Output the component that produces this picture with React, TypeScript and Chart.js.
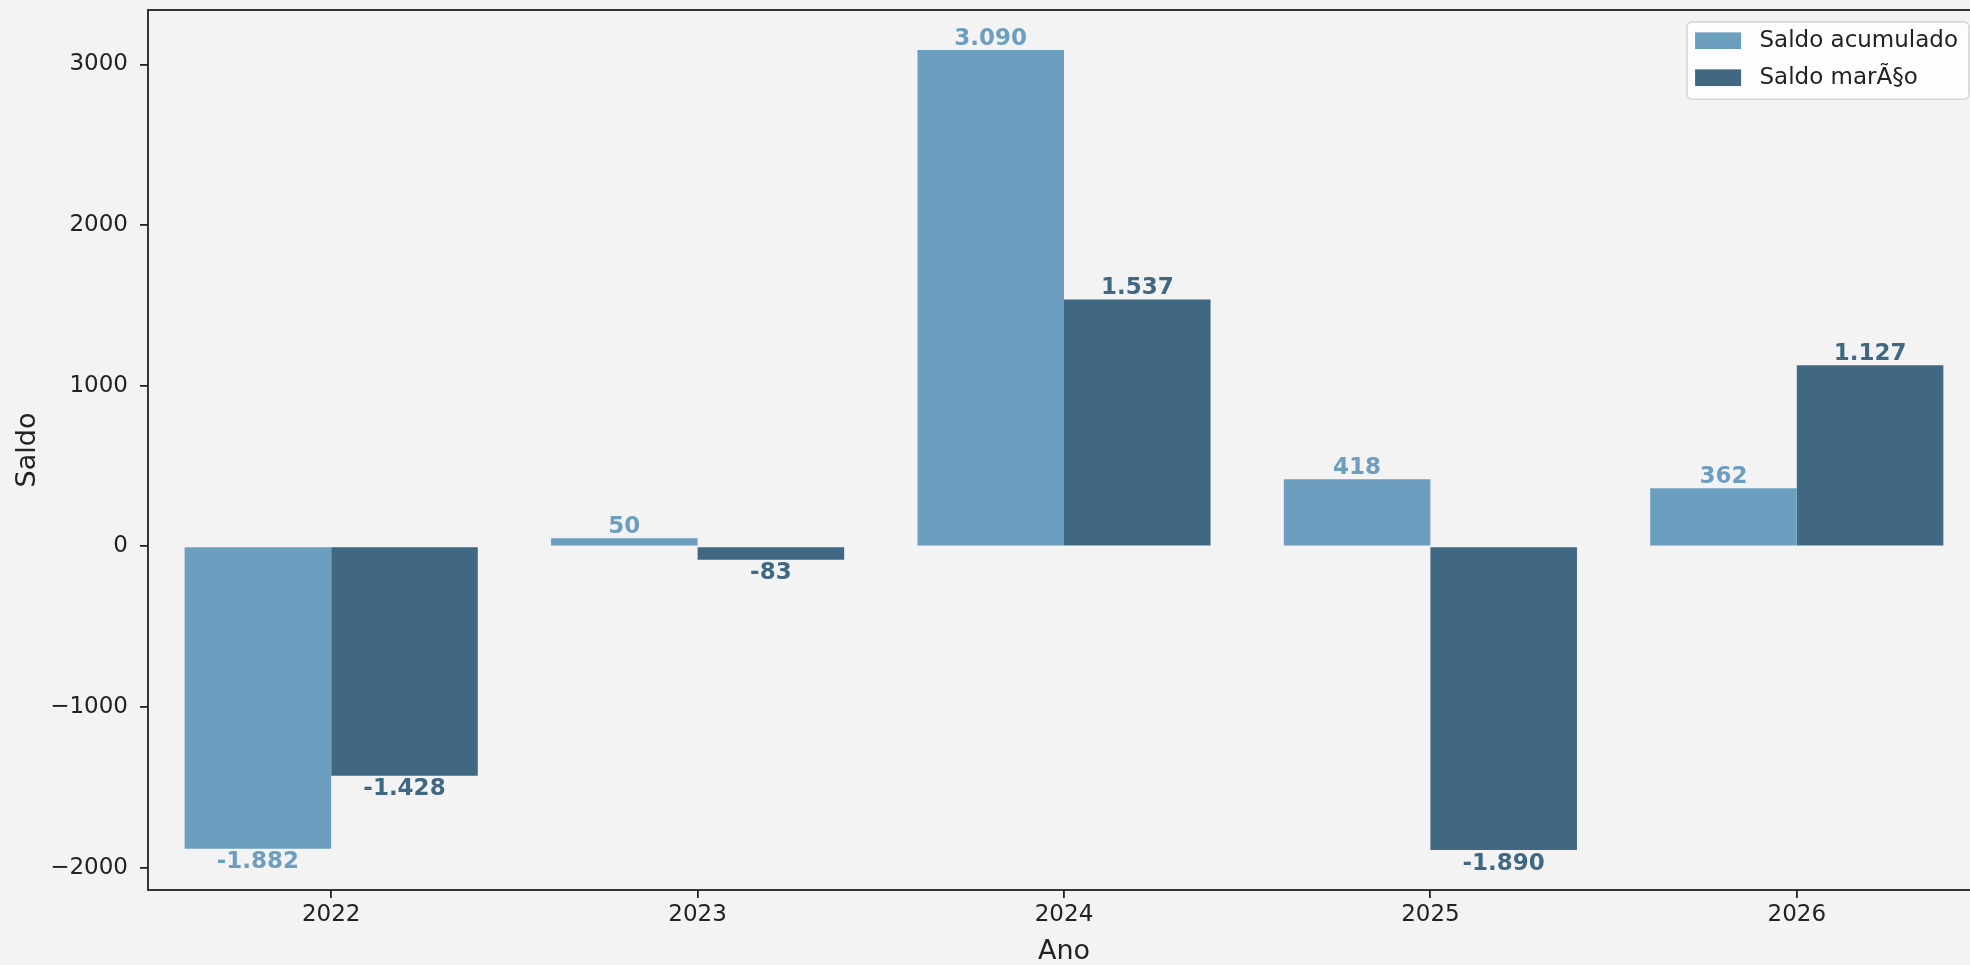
import React, { useEffect, useRef } from 'react';
import { Chart, registerables } from 'chart.js';

Chart.register(...registerables);

const categories = ['2022', '2023', '2024', '2025', '2026'];
const saldoAcumulado = [-1882, 50, 3090, 418, 362];
const saldoMarco = [-1428, -83, 1537, -1890, 1127];
const seriesLabels = ['Saldo acumulado', 'Saldo marÃ§o'];
const seriesColors = ['#6c9ec0', '#406882'];
const yTickValues = [-2000, -1000, 0, 1000, 2000, 3000];
const yMin = -2139;
const yMax = 3339;
const xTitle = 'Ano';
const yTitle = 'Saldo';

const FONT = "'DejaVu Sans', 'Liberation Sans', sans-serif";
const BG = '#f3f3f3';
const INK = '#222222';

function fmtLabel(v: number): string {
  const s = Math.abs(v).toString().replace(/\B(?=(\d{3})+(?!\d))/g, '.');
  return (v < 0 ? '-' : '') + s;
}

function fmtTick(v: number): string {
  return v < 0 ? '\u2212' + Math.abs(v) : String(v);
}

const bgPlugin = {
  id: 'bgFill',
  beforeDraw(chart: any) {
    const { ctx, width, height } = chart;
    ctx.save();
    ctx.fillStyle = BG;
    ctx.fillRect(0, 0, width, height);
    ctx.restore();
  },
};

const spinesPlugin = {
  id: 'spines',
  afterDraw(chart: any) {
    const { ctx, chartArea } = chart;
    ctx.save();
    ctx.strokeStyle = INK;
    ctx.lineWidth = 1.8;
    ctx.strokeRect(chartArea.left, chartArea.top, chartArea.right - chartArea.left, chartArea.bottom - chartArea.top);
    ctx.restore();
  },
};

const valueLabelsPlugin = {
  id: 'valueLabels',
  afterDatasetsDraw(chart: any) {
    const { ctx } = chart;
    ctx.save();
    ctx.font = `bold 23px ${FONT}`;
    ctx.textAlign = 'center';
    ctx.textBaseline = 'alphabetic';
    chart.data.datasets.forEach((ds: any, di: number) => {
      const meta = chart.getDatasetMeta(di);
      meta.data.forEach((el: any, i: number) => {
        const v = ds.data[i] as number;
        ctx.fillStyle = ds.backgroundColor;
        const y = v >= 0 ? el.y - 5.5 : el.y + 19.5;
        ctx.fillText(fmtLabel(v), el.x, y);
      });
    });
    ctx.restore();
  },
};

const legendPlugin = {
  id: 'boxLegend',
  afterDraw(chart: any) {
    const { ctx, chartArea } = chart;
    const fs = 23;
    ctx.save();
    ctx.font = `${fs}px ${FONT}`;
    const labels = chart.data.datasets.map((d: any) => d.label as string);
    const textW = Math.max(...labels.map((l: string) => ctx.measureText(l).width));
    const padL = 8;
    const padR = 11;
    const handleW = 46;
    const handleH = 16.7;
    const gap = 18.4;
    const rowH = 37;
    const boxW = padL + handleW + gap + textW + padR;
    const boxH = 77.6;
    const right = chartArea.right - 11;
    const left = right - boxW;
    const top = chartArea.top + 11.7;
    ctx.beginPath();
    (ctx as any).roundRect(left, top, boxW, boxH, 5);
    ctx.fillStyle = '#fdfdfd';
    ctx.fill();
    ctx.strokeStyle = '#d4d4d4';
    ctx.lineWidth = 1.5;
    ctx.stroke();
    chart.data.datasets.forEach((d: any, i: number) => {
      const cy = top + 19 + i * rowH;
      ctx.fillStyle = d.backgroundColor;
      ctx.fillRect(left + padL, cy - handleH / 2, handleW, handleH);
      ctx.fillStyle = INK;
      ctx.textAlign = 'left';
      ctx.textBaseline = 'middle';
      ctx.fillText(d.label, left + padL + handleW + gap, cy + 0.6);
    });
    ctx.restore();
  },
};

export default function App() {
  const canvasRef = useRef<HTMLCanvasElement | null>(null);

  useEffect(() => {
    document.body.style.margin = '0';
    document.body.style.overflow = 'hidden';
    document.documentElement.style.overflow = 'hidden';
    const canvas = canvasRef.current;
    if (!canvas) return;
    const chart = new Chart(canvas, {
      type: 'bar',
      data: {
        labels: categories,
        datasets: [
          {
            label: seriesLabels[0],
            data: saldoAcumulado,
            backgroundColor: seriesColors[0],
            categoryPercentage: 0.8,
            barPercentage: 1.0,
          },
          {
            label: seriesLabels[1],
            data: saldoMarco,
            backgroundColor: seriesColors[1],
            categoryPercentage: 0.8,
            barPercentage: 1.0,
          },
        ],
      },
      options: {
        animation: false,
        responsive: false,
        maintainAspectRatio: false,
        layout: { padding: { top: 10, left: 0, right: 0, bottom: 0 } },
        plugins: {
          legend: { display: false },
          tooltip: { enabled: false },
        },
        scales: {
          x: {
            offset: true,
            grid: {
              display: true,
              offset: false,
              drawOnChartArea: false,
              drawTicks: true,
              tickLength: 8,
              color: INK,
              lineWidth: 1.8,
            },
            border: { display: false },
            ticks: {
              color: INK,
              font: { family: FONT, size: 23 },
              padding: 3,
              maxRotation: 0,
              autoSkip: false,
            },
            title: {
              display: true,
              text: xTitle,
              color: INK,
              font: { family: FONT, size: 27, lineHeight: 1 },
              padding: { top: 0, bottom: 0 },
            },
            afterFit(scale: any) {
              scale.height = 75;
              scale.paddingLeft = 0;
              scale.paddingRight = 0;
            },
          },
          y: {
            min: yMin,
            max: yMax,
            grid: {
              display: true,
              drawOnChartArea: false,
              drawTicks: true,
              tickLength: 8,
              color: INK,
              lineWidth: 1.8,
            },
            border: { display: false },
            ticks: {
              color: INK,
              font: { family: FONT, size: 23 },
              padding: 12,
              callback: (v: any) => fmtTick(Number(v)),
            },
            afterBuildTicks(scale: any) {
              scale.ticks = yTickValues.map((v) => ({ value: v }));
            },
            title: {
              display: true,
              text: yTitle,
              color: INK,
              font: { family: FONT, size: 27, lineHeight: 1 },
              padding: { top: 14, bottom: 0 },
            },
            afterFit(scale: any) {
              scale.width = 148;
              scale.paddingTop = 0;
              scale.paddingBottom = 0;
            },
          },
        },
      },
      plugins: [bgPlugin, valueLabelsPlugin, spinesPlugin, legendPlugin],
    });
    return () => chart.destroy();
  }, []);

  return (
    <div style={{ width: 1970, height: 965, overflow: 'hidden', background: BG }}>
      <div style={{ width: 1980, height: 965 }}>
        <canvas ref={canvasRef} width={1980} height={965} style={{ display: 'block', width: 1980, height: 965 }} />
      </div>
    </div>
  );
}
